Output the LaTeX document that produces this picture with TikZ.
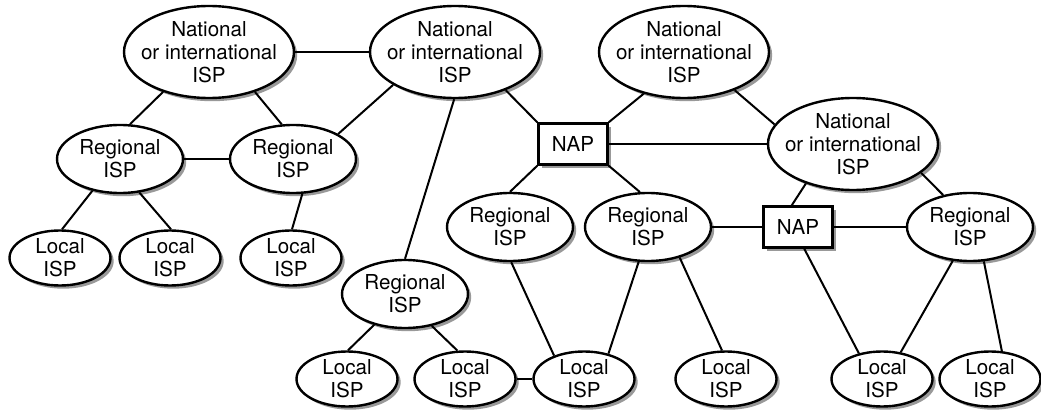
\documentclass[tikz,border=0pt]{standalone}
\usepackage{fontspec}
\setmainfont{TeX Gyre Heros}
\usepackage{tikz}
\usetikzlibrary{shapes,shadows,positioning}

\tikzset{
  ispbase/.style={ellipse, draw, fill=white, line width=1.2pt, align=center,
    font=\fontsize{10.3}{11.5}\selectfont, inner xsep=-10pt, inner ysep=-5pt,
    drop shadow={shadow xshift=1.6pt, shadow yshift=-1.6pt, fill=black!40, opacity=1}},
  natisp/.style={ispbase, minimum width=85pt, minimum height=46pt},
  regisp/.style={ispbase, minimum width=63pt, minimum height=34pt},
  locisp/.style={ispbase, minimum width=50.5pt, minimum height=27.5pt},
  napbox/.style={rectangle, draw, fill=white, line width=1.2pt,
    font=\fontsize{10.3}{11.5}\selectfont, minimum width=34.5pt, minimum height=20.5pt,
    inner sep=0pt,
    drop shadow={shadow xshift=1.6pt, shadow yshift=-1.6pt, fill=black!40, opacity=1}},
  link/.style={line width=1pt}
}

\begin{document}
\begin{tikzpicture}[x=0.5pt, y=-0.5pt]
    \useasboundingbox (0,0) rectangle (1041,412);

    % National or international ISPs
    \node[natisp] (n1) at (209,52) {National\\or international\\ISP};
    \node[natisp] (n2) at (455,52) {National\\or international\\ISP};
    \node[natisp] (n3) at (684,52) {National\\or international\\ISP};
    \node[natisp] (n4) at (853,144) {National\\or international\\ISP};

    % Access points
    \node[napbox] (nap1) at (573,144) {NAP};
    \node[napbox] (nap2) at (798,227) {NAP};

    % Regional ISPs
    \node[regisp] (r1) at (120,159) {Regional\\ISP};
    \node[regisp] (r2) at (293,159) {Regional\\ISP};
    \node[regisp] (r3) at (405,294) {Regional\\ISP};
    \node[regisp] (r4) at (510,227) {Regional\\ISP};
    \node[regisp] (r5) at (648,227) {Regional\\ISP};
    \node[regisp] (r6) at (970,227) {Regional\\ISP};

    % Local ISPs
    \node[locisp] (l1) at (60,258) {Local\\ISP};
    \node[locisp] (l2) at (170,258) {Local\\ISP};
    \node[locisp] (l3) at (291,258) {Local\\ISP};
    \node[locisp] (l4) at (347,379) {Local\\ISP};
    \node[locisp] (l5) at (465,379) {Local\\ISP};
    \node[locisp] (l6) at (584,379) {Local\\ISP};
    \node[locisp] (l7) at (726,379) {Local\\ISP};
    \node[locisp] (l8) at (882,379) {Local\\ISP};
    \node[locisp] (l9) at (990,379) {Local\\ISP};

    % Links
    \draw[link] (n1) -- (n2);
    \draw[link] (n1.221) -- (r1.74);
    \draw[link] (n1.319) -- (r2.108);
    \draw[link] (r1) -- (r2);
    \draw[link] (r1.229) -- (l1.86);
    \draw[link] (r1.300) -- (l2.88);
    \draw[link] (r2.285) -- (l3.88);
    \draw[link] (n2.208) -- (r2.29);
    \draw[link] (n2.269) -- (r3.90);
    \draw[link] (n2.323) -- (nap1.north west);
    \draw[link] (nap1.north east) -- (n3.226);
    \draw[link] (nap1) -- (n4);
    \draw[link] (nap1.south west) -- (r4.90);
    \draw[link] (nap1.south east) -- (r5.103);
    \draw[link] (n3.323) -- (n4.166);
    \draw[link] (n4.220) -- (nap2.106);
    \draw[link] (n4.337) -- (r6.130);
    \draw[link] (r5) -- (nap2);
    \draw[link] (nap2) -- (r6);
    \draw[link] (nap2.286) -- (l8.132);
    \draw[link] (r6.243) -- (l8.55);
    \draw[link] (r6.292) -- (l9.67);
    \draw[link] (r5.316) -- (l7.98);
    \draw[link] (r3.225) -- (l4.88);
    \draw[link] (r3.310) -- (l5.105);
    \draw[link] (r4.272) -- (l6.142);
    \draw[link] (r5.255) -- (l6.46);
    \draw[link] (l5) -- (l6);
\end{tikzpicture}
\end{document}
